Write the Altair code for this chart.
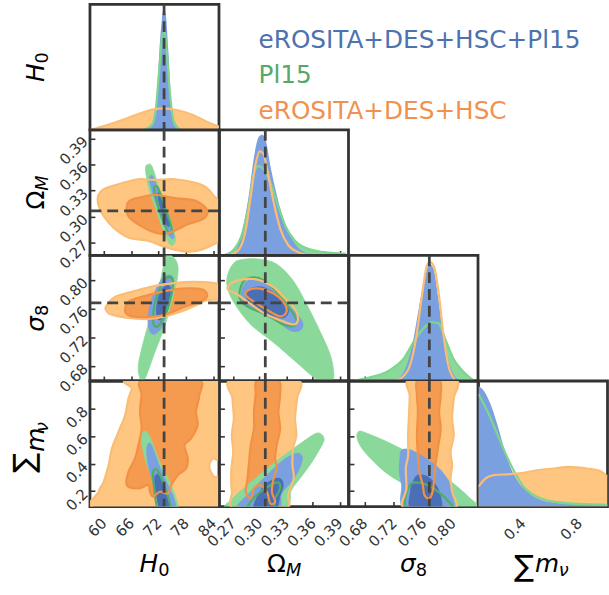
import altair as alt
import pandas as pd

# ---------------- axes: ranges, ticks, fiducial values ----------------
H0_DOMAIN = [57.0, 85.2]
OM_DOMAIN = [0.255, 0.400]
S8_DOMAIN = [0.659, 0.834]
MNU_DOMAIN = [0.088, 1.0]
DENS_DOMAIN = [0.0, 1.0]

H0_TICKS = [60, 66, 72, 78, 84]
OM_TICKS = [0.27, 0.30, 0.33, 0.36, 0.39]
S8_TICKS = [0.68, 0.72, 0.76, 0.80]
MNU_TICKS_Y = [0.2, 0.4, 0.6, 0.8]
MNU_TICKS_X = [0.4, 0.8]

H0_FID = [73.2]
OM_FID = [0.3065]
S8_FID = [0.768]

LEGEND_LABELS = ["eROSITA+DES+HSC+Pl15", "Pl15", "eROSITA+DES+HSC"]

# ---------------- 1D marginals (value, normalised density) ----------------
d0_blue = [(69.44, 0), (70.88, 0.053), (71.6, 0.237), (72.18, 0.632), (72.68, 0.868), (73.05, 0.96),
           (73.55, 0.921), (74.13, 0.632), (74.7, 0.237), (75.21, 0.053), (76.29, 0)]
d0_green = [(68.72, 0), (70.52, 0.039), (71.46, 0.184), (72.18, 0.5), (72.9, 0.763), (73.33, 0.776),
            (73.77, 0.632), (74.49, 0.289), (75.21, 0.079), (76.65, 0)]
d0_orange = [(57.0, 0.0), (60.79, 0.039), (65.12, 0.092), (68.0, 0.132), (70.88, 0.163), (73.05, 0.171),
             (75.93, 0.158), (79.53, 0.118), (82.41, 0.066), (85.2, 0.026)]

d1_blue = [(0.2663, 0), (0.2737, 0.039), (0.281, 0.21), (0.2884, 0.5), (0.2939, 0.789), (0.2994, 0.947),
           (0.3031, 0.961), (0.3068, 0.921), (0.3123, 0.711), (0.3197, 0.474), (0.327, 0.289),
           (0.3362, 0.132), (0.3473, 0.039), (0.362, 0)]
d1_green = [(0.259, 0), (0.27, 0.039), (0.281, 0.184), (0.2884, 0.421), (0.2939, 0.658), (0.2987, 0.711),
            (0.305, 0.684), (0.3123, 0.579), (0.3197, 0.421), (0.3289, 0.237), (0.3399, 0.118),
            (0.3546, 0.053), (0.373, 0.026), (0.397, 0.013)]
d1_orange = [(0.2663, 0), (0.2774, 0.053), (0.2847, 0.21), (0.2902, 0.474), (0.2958, 0.737), (0.3002, 0.829),
             (0.3039, 0.816), (0.3086, 0.684), (0.316, 0.421), (0.3234, 0.21), (0.3326, 0.079),
             (0.3436, 0.026), (0.3583, 0)]

d2_blue = [(0.7206, 0), (0.7339, 0.079), (0.7449, 0.289), (0.7537, 0.579), (0.7626, 0.842), (0.7683, 0.934),
           (0.7736, 0.895), (0.7802, 0.658), (0.7868, 0.368), (0.7957, 0.132), (0.8067, 0.013), (0.8138, 0)]
d2_green = [(0.661, 0), (0.6853, 0.026), (0.7118, 0.079), (0.7339, 0.184), (0.7471, 0.316), (0.7604, 0.421),
            (0.7714, 0.468), (0.7802, 0.461), (0.789, 0.342), (0.8001, 0.184), (0.8133, 0.079), (0.8288, 0)]
d2_orange = [(0.7228, 0), (0.7383, 0.079), (0.7493, 0.316), (0.7581, 0.684), (0.7648, 0.921), (0.7692, 0.947),
             (0.7745, 0.908), (0.7815, 0.658), (0.7877, 0.342), (0.7935, 0.132), (0.8023, 0.013)]

d3_blue = [(0.088, 0.961), (0.1263, 0.921), (0.1731, 0.816), (0.2199, 0.658), (0.2667, 0.474), (0.3135, 0.316),
           (0.3602, 0.211), (0.433, 0.118), (0.5006, 0.066), (0.6175, 0.032), (0.7813, 0.018), (1.0, 0.013)]
d3_green = [(0.088, 0.895), (0.1497, 0.763), (0.2199, 0.579), (0.2901, 0.395), (0.3485, 0.263), (0.407, 0.158),
            (0.5006, 0.079), (0.6175, 0.039), (0.7813, 0.021), (1.0, 0.013)]
d3_orange = [(0.088, 0.158), (0.138, 0.224), (0.1965, 0.25), (0.3135, 0.258), (0.407, 0.268), (0.5006, 0.289),
             (0.6175, 0.303), (0.7345, 0.316), (0.8514, 0.303), (0.945, 0.284), (1.0, 0.237)]

# ---------------- 2D contours (x, y) ----------------
# H0 vs Omega_M
p10_orange_outer = [(58.77, 0.3232), (60.0, 0.3316), (63.96, 0.3384), (67.57, 0.3430), (71.17, 0.3422),
                    (75.5, 0.3430), (79.82, 0.3392), (82.34, 0.3338), (84.5, 0.3213), (85.6, 0.3156),
                    (85.6, 0.2776), (83.42, 0.2662), (79.1, 0.2594), (75.5, 0.2616), (72.61, 0.2662),
                    (69.73, 0.2719), (65.41, 0.2757), (62.16, 0.2871), (60.0, 0.3004), (58.92, 0.3118)]
p10_orange_inner = [(65.05, 0.3118), (65.77, 0.3186), (68.29, 0.3224), (71.17, 0.3251), (75.5, 0.3213),
                    (79.82, 0.3186), (81.98, 0.3118), (82.7, 0.305), (81.62, 0.2966), (78.38, 0.2909),
                    (74.05, 0.2806), (71.17, 0.2814), (67.57, 0.2909), (65.41, 0.3004)]
p10_green_outer = [(69.15, 0.3555), (69.73, 0.3601), (70.59, 0.3574), (72.25, 0.3308), (74.05, 0.3042),
                   (75.64, 0.2776), (75.35, 0.2681), (74.41, 0.2681), (72.97, 0.2852), (71.17, 0.3118),
                   (69.73, 0.3346)]
p10_green_inner = [(71.17, 0.3346), (71.89, 0.3327), (73.33, 0.3118), (74.77, 0.289), (74.77, 0.2814),
                   (74.05, 0.2822), (72.76, 0.2985), (71.53, 0.3194), (71.03, 0.3308)]
p10_blue_outer = [(70.09, 0.346), (70.81, 0.346), (72.25, 0.3251), (74.05, 0.3004), (75.35, 0.2784),
                  (74.92, 0.2746), (73.91, 0.2814), (72.25, 0.3023), (70.81, 0.3251), (69.95, 0.3422)]
p10_blue_inner = [(71.89, 0.327), (72.61, 0.3251), (73.69, 0.3061), (74.41, 0.2909), (73.91, 0.289),
                  (72.97, 0.3004), (72.04, 0.3175)]

# H0 vs sigma_8
p20_orange_outer = [(60.5, 0.7627), (62.52, 0.7763), (66.13, 0.7832), (70.09, 0.790), (73.33, 0.7936),
                    (77.66, 0.7968), (81.98, 0.7968), (84.86, 0.7945), (86.0, 0.790), (86.0, 0.7741),
                    (82.7, 0.7718), (79.82, 0.7636), (76.94, 0.7559), (73.33, 0.749), (69.73, 0.7454),
                    (65.41, 0.7468), (61.8, 0.7513), (60.72, 0.7559)]
p20_orange_inner = [(64.68, 0.7604), (65.41, 0.7695), (68.29, 0.7763), (72.61, 0.7832), (76.94, 0.7877),
                    (80.54, 0.7877), (82.34, 0.7832), (82.34, 0.7741), (79.82, 0.7672), (76.94, 0.7604),
                    (73.33, 0.7513), (69.73, 0.7481), (66.13, 0.749), (64.83, 0.7536)]
p20_green_outer = [(67.93, 0.6626), (67.57, 0.6808), (68.65, 0.7126), (70.45, 0.7536), (72.25, 0.7945),
                   (73.33, 0.8264), (74.05, 0.836), (75.86, 0.8264), (76.22, 0.8082), (75.14, 0.7763),
                   (73.33, 0.7354), (71.17, 0.699), (69.37, 0.6671), (68.65, 0.6603)]
p20_green_inner = [(70.81, 0.7445), (71.17, 0.7672), (72.61, 0.7923), (74.05, 0.8036), (75.14, 0.7991),
                   (74.77, 0.7786), (73.69, 0.7559), (72.25, 0.7377), (71.17, 0.7354)]
p20_blue_outer = [(69.73, 0.749), (70.45, 0.7718), (72.25, 0.7968), (73.69, 0.8059), (75.14, 0.8036),
                  (75.14, 0.7854), (74.05, 0.7604), (72.61, 0.7331), (70.81, 0.724), (69.87, 0.7331)]
p20_blue_inner = [(71.53, 0.7581), (72.25, 0.7809), (73.69, 0.7923), (74.63, 0.7877), (74.41, 0.7672),
                  (73.33, 0.749), (72.04, 0.7445)]

# H0 vs sum m_nu
p30_orange_outer = [(65.77, 1.01), (85.6, 1.01), (85.6, 0.4736), (83.78, 0.4373), (83.06, 0.3769),
                    (84.14, 0.3043), (85.6, 0.2922), (85.6, 0.07), (58.92, 0.07), (58.92, 0.1955),
                    (60.0, 0.268), (61.08, 0.3889), (61.8, 0.5098), (63.24, 0.6307), (64.68, 0.7516),
                    (65.41, 0.8725), (66.13, 0.9451)]
p30_orange_inner = [(80.54, 1.01), (80.9, 0.8967), (80.18, 0.7758), (80.54, 0.6791), (79.1, 0.5824),
                    (77.66, 0.534), (78.38, 0.4373), (78.02, 0.3648), (76.22, 0.3164), (74.77, 0.2439),
                    (74.05, 0.1834), (72.25, 0.1955), (70.81, 0.1592), (70.09, 0.1955), (69.73, 0.2439),
                    (67.57, 0.2197), (65.05, 0.2439), (65.41, 0.3406), (66.85, 0.4373), (67.57, 0.534),
                    (68.29, 0.6549), (67.93, 0.7758), (68.29, 0.8967), (68.65, 1.01)]
p30_green_outer = [(68.29, 0.6066), (69.01, 0.6356), (70.09, 0.5945), (72.25, 0.4131), (74.41, 0.268),
                   (75.86, 0.1471), (76.22, 0.07), (73.69, 0.07), (71.53, 0.2197), (69.73, 0.3648),
                   (68.5, 0.5098)]
p30_green_inner = [(70.81, 0.3406), (71.68, 0.3527), (73.19, 0.2439), (74.63, 0.07), (71.89, 0.07),
                   (70.95, 0.2439)]
p30_blue_outer = [(69.59, 0.534), (70.45, 0.534), (72.25, 0.3769), (74.05, 0.2439), (75.35, 0.1471),
                  (75.64, 0.07), (72.97, 0.07), (71.53, 0.1955), (70.09, 0.3406), (69.44, 0.4615)]
p30_blue_inner = [(71.17, 0.3043), (72.04, 0.3164), (73.33, 0.2197), (74.41, 0.07), (72.25, 0.07),
                  (71.32, 0.2197)]

# Omega_M vs sigma_8
p21_green_outer = [(0.2645, 0.8082), (0.2718, 0.8241), (0.2828, 0.8287), (0.3011, 0.8287), (0.3194, 0.8218),
                   (0.3377, 0.7991), (0.3524, 0.7672), (0.367, 0.7308), (0.3798, 0.6944), (0.3835, 0.6649),
                   (0.378, 0.6594), (0.3633, 0.6626), (0.3414, 0.6853), (0.3158, 0.7126), (0.2901, 0.7377),
                   (0.2718, 0.7672), (0.2638, 0.79)]
p21_green_inner = [(0.2773, 0.7809), (0.2828, 0.7991), (0.2938, 0.8036), (0.3048, 0.7991), (0.3176, 0.7854),
                   (0.3322, 0.7627), (0.3414, 0.7445), (0.3377, 0.7354), (0.3267, 0.7377), (0.3084, 0.7513),
                   (0.2901, 0.7604), (0.2799, 0.7695)]
p21_blue_outer = [(0.2792, 0.7809), (0.2846, 0.7968), (0.2956, 0.80), (0.3066, 0.7945), (0.3194, 0.7809),
                  (0.3377, 0.7581), (0.348, 0.7422), (0.3469, 0.7308), (0.3359, 0.7286), (0.3194, 0.7422),
                  (0.2975, 0.7559), (0.2828, 0.7672)]
p21_blue_inner = [(0.2846, 0.7786), (0.2901, 0.7877), (0.3029, 0.790), (0.3176, 0.7809), (0.3304, 0.7672),
                  (0.3322, 0.7536), (0.3249, 0.7468), (0.3084, 0.7536), (0.292, 0.765)]
p21_orange_outer = [(0.2645, 0.79), (0.27, 0.7968), (0.2865, 0.8014), (0.3011, 0.7991), (0.3158, 0.79),
                    (0.3267, 0.7763), (0.3395, 0.7604), (0.3432, 0.7445), (0.3377, 0.7377), (0.3212, 0.7445),
                    (0.3048, 0.7536), (0.2865, 0.7695), (0.2737, 0.7809), (0.2652, 0.7854)]
p21_orange_inner = [(0.2846, 0.7786), (0.2883, 0.7863), (0.3011, 0.7877), (0.3158, 0.7809), (0.3267, 0.7695),
                    (0.3304, 0.7559), (0.3231, 0.749), (0.3084, 0.7581), (0.2938, 0.7695)]

# Omega_M vs sum m_nu
p31_orange_outer = [(0.2689, 1.01), (0.3414, 1.01), (0.3421, 0.8725), (0.3399, 0.7275), (0.3414, 0.6066),
                    (0.3377, 0.5098), (0.337, 0.3889), (0.3384, 0.2922), (0.3322, 0.1713), (0.3286, 0.07),
                    (0.2718, 0.07), (0.2689, 0.1955), (0.2682, 0.3406), (0.2704, 0.4857), (0.2689, 0.6066),
                    (0.2711, 0.7275), (0.2696, 0.8725)]
p31_orange_inner = [(0.2975, 1.01), (0.3212, 1.01), (0.3231, 0.8967), (0.3212, 0.7758), (0.3231, 0.6549),
                    (0.3194, 0.534), (0.3176, 0.4373), (0.3194, 0.3648), (0.3158, 0.2922), (0.3139, 0.1955),
                    (0.3176, 0.1229), (0.3121, 0.1109), (0.3084, 0.1955), (0.3011, 0.2439), (0.2938, 0.2197),
                    (0.2901, 0.1471), (0.2846, 0.1955), (0.2865, 0.2922), (0.2883, 0.4131), (0.2901, 0.534),
                    (0.2938, 0.6549), (0.2938, 0.7758), (0.2956, 0.8967)]
p31_green_outer = [(0.2638, 0.07), (0.27, 0.1471), (0.2865, 0.2439), (0.3084, 0.3648), (0.3304, 0.4736),
                   (0.3487, 0.5582), (0.3633, 0.6187), (0.3699, 0.6114), (0.3725, 0.5703), (0.367, 0.4978),
                   (0.3578, 0.401), (0.3469, 0.3043), (0.3359, 0.2076), (0.3267, 0.07)]
p31_green_inner = [(0.2883, 0.07), (0.2901, 0.123), (0.3011, 0.1955), (0.3139, 0.2487), (0.3212, 0.2632),
                   (0.3231, 0.2197), (0.3176, 0.1471), (0.3139, 0.07)]
p31_blue_outer = [(0.2755, 0.07), (0.2901, 0.1955), (0.3084, 0.3164), (0.3267, 0.4252), (0.3414, 0.4736),
                  (0.348, 0.4494), (0.345, 0.3648), (0.3359, 0.268), (0.3249, 0.1834), (0.3194, 0.07)]
p31_blue_inner = [(0.2938, 0.07), (0.3029, 0.2197), (0.3139, 0.2801), (0.3231, 0.2922), (0.3267, 0.2439),
                  (0.3231, 0.1713), (0.3176, 0.07)]

# sigma_8 vs sum m_nu
p32_orange_outer = [(0.7414, 1.01), (0.8033, 1.01), (0.8011, 0.8725), (0.7989, 0.7275), (0.8011, 0.6066),
                    (0.7967, 0.4857), (0.7989, 0.3889), (0.7967, 0.2922), (0.7989, 0.1955), (0.8011, 0.07),
                    (0.7348, 0.07), (0.737, 0.2197), (0.7361, 0.3648), (0.7392, 0.4615), (0.7392, 0.6066),
                    (0.7406, 0.7758), (0.7414, 0.8967)]
p32_orange_inner = [(0.7525, 1.01), (0.7812, 1.01), (0.7834, 0.8967), (0.7812, 0.7758), (0.7834, 0.6549),
                    (0.7803, 0.534), (0.7768, 0.4131), (0.7746, 0.2922), (0.7724, 0.1955), (0.768, 0.1471),
                    (0.7613, 0.1713), (0.7591, 0.2439), (0.7547, 0.3406), (0.7525, 0.4615), (0.7512, 0.6066),
                    (0.7525, 0.7758), (0.7512, 0.8967)]
p32_green_outer = [(0.6698, 0.5945), (0.6729, 0.6356), (0.684, 0.6187), (0.7105, 0.5582), (0.7459, 0.4615),
                   (0.7768, 0.3527), (0.8033, 0.2439), (0.821, 0.1592), (0.836, 0.07), (0.7989, 0.07),
                   (0.768, 0.1713), (0.737, 0.2439), (0.7105, 0.3285), (0.6884, 0.4373), (0.6751, 0.5219)]
p32_green_inner = [(0.7392, 0.07), (0.7414, 0.2439), (0.7591, 0.256), (0.7768, 0.2076), (0.79, 0.1471),
                   (0.7967, 0.07)]
p32_blue_outer = [(0.7282, 0.4373), (0.7304, 0.4978), (0.7436, 0.4978), (0.7635, 0.4373), (0.7812, 0.3648),
                  (0.7945, 0.268), (0.7989, 0.1713), (0.7967, 0.07), (0.7348, 0.07), (0.7304, 0.2439),
                  (0.7273, 0.3406)]
p32_blue_inner = [(0.7459, 0.268), (0.7525, 0.3164), (0.7657, 0.3043), (0.7768, 0.2439), (0.7834, 0.1592),
                  (0.7812, 0.07), (0.7436, 0.07), (0.7423, 0.1955)]

# ---------------- styling ----------------
W, HT = 130.5, 127
FRAME = "#333333"
DASH = "#444444"
C_BLUE, C_BLUE_IN = "#7ba0e0", "#4b6fb5"
C_GREEN, C_GREEN_IN, C_GREEN_LINE = "#8ad99a", "#4fae66", "#7dd68d"
C_OR, C_OR_IN, C_OR_LINE, C_OR_LINE_IN = "#fec680", "#f59b50", "#fbbd75", "#f29145"
LEGEND_COLORS = ["#4c72b0", "#55a868", "#f0924f"]
FONT = "DejaVu Sans"

PARAMS = ["H0", "OM", "S8", "MNU"]
DOM = {"H0": H0_DOMAIN, "OM": OM_DOMAIN, "S8": S8_DOMAIN, "MNU": MNU_DOMAIN}
XTICKS = {"H0": H0_TICKS, "OM": OM_TICKS, "S8": S8_TICKS, "MNU": MNU_TICKS_X}
YTICKS = {"OM": OM_TICKS, "S8": S8_TICKS, "MNU": MNU_TICKS_Y}
FMT = {"H0": "d", "OM": ".2f", "S8": ".2f", "MNU": ".1f"}
FID = {"H0": H0_FID, "OM": OM_FID, "S8": S8_FID, "MNU": []}


def make_axis(orient, ticks, fmt, labels):
    return alt.Axis(orient=orient, values=ticks, format=fmt, labels=labels, domain=False, grid=False,
                    ticks=True, tickSize=5, tickWidth=1.6, tickColor=FRAME, offset=-5,
                    labelAngle=315, labelAlign="right", labelBaseline="middle",
                    labelFontSize=15, labelFont=FONT, labelColor="#333333",
                    labelPadding=14 if orient == "bottom" else 5,
                    labelOverlap=False, labelFlush=False, labelBound=False, title=None)


def encs(r, c):
    px = PARAMS[c]
    xe = alt.X("x:Q", scale=alt.Scale(domain=DOM[px], nice=False, zero=False),
               axis=make_axis("bottom", XTICKS[px], FMT[px], r == 3))
    if r == c:
        ye = alt.Y("y:Q", scale=alt.Scale(domain=DENS_DOMAIN, nice=False, zero=False), axis=None)
    else:
        py = PARAMS[r]
        ye = alt.Y("y:Q", scale=alt.Scale(domain=DOM[py], nice=False, zero=False),
                   axis=make_axis("left", YTICKS[py], FMT[py], c == 0))
    return xe, ye


def df_of(pts):
    return pd.DataFrame({"x": [p[0] for p in pts], "y": [p[1] for p in pts], "o": list(range(len(pts)))})


def fill_poly(pts, xe, ye, color):
    return alt.Chart(df_of(pts)).mark_line(fill=color, stroke=color, strokeWidth=0.8,
                                           interpolate="cardinal-closed", clip=True).encode(
        x=xe, y=ye, order="o:Q")


def line_poly(pts, xe, ye, color, width=2.2):
    return alt.Chart(df_of(pts)).mark_line(stroke=color, strokeWidth=width,
                                           interpolate="cardinal-closed", clip=True).encode(
        x=xe, y=ye, order="o:Q")


def dens_area(pts, xe, ye, color):
    return alt.Chart(df_of(pts)).mark_area(color=color, interpolate="monotone", clip=True).encode(
        x=xe, y=ye)


def dens_line(pts, xe, ye, color):
    return alt.Chart(df_of(pts)).mark_line(color=color, strokeWidth=2.2, interpolate="monotone",
                                           clip=True).encode(x=xe, y=ye, order="o:Q")


def vrule(vals, xe):
    return alt.Chart(pd.DataFrame({"x": vals})).mark_rule(color=DASH, strokeWidth=2.8, strokeDash=[11, 6],
                                                          clip=True).encode(x=xe)


def hrule(vals, ye):
    return alt.Chart(pd.DataFrame({"y": vals})).mark_rule(color=DASH, strokeWidth=2.8, strokeDash=[11, 6],
                                                          clip=True).encode(y=ye)


def txt(s, x, y, size, style="normal", angle=0, align="left", color="black"):
    return alt.Chart(pd.DataFrame({"t": [s]})).mark_text(
        align=align, baseline="alphabetic", fontSize=size, font=FONT, fontStyle=style,
        angle=angle, color=color).encode(x=alt.value(x), y=alt.value(y), text="t:N")


CX, CY = W / 2, HT / 2
XB = HT + 66   # baseline of x titles
YB = -46       # baseline of y titles


def x_title(p):
    if p == "H0":
        return [txt("H", CX + 3.7, XB, 25, "italic", align="right"), txt("0", CX + 3.7, XB + 4, 18)]
    if p == "OM":
        return [txt("Ω", CX + 2, XB, 25, align="right"), txt("M", CX + 2, XB + 4, 18, "italic")]
    if p == "S8":
        return [txt("σ", CX + 2.2, XB, 25, "italic", align="right"), txt("8", CX + 2.2, XB + 4, 18)]
    return [txt("∑", CX - 9, XB + 4, 30, align="right"), txt("m", CX - 8, XB, 25, "italic"),
            txt("ν", CX + 16, XB + 4, 18, "italic")]


def y_title(p):
    if p == "H0":
        return [txt("H", YB, CY - 3.7, 25, "italic", 270, "right"), txt("0", YB + 4, CY - 3.7, 18, angle=270)]
    if p == "OM":
        return [txt("Ω", YB, CY - 2, 25, angle=270, align="right"), txt("M", YB + 4, CY - 2, 18, "italic", 270)]
    if p == "S8":
        return [txt("σ", YB, CY - 2.2, 25, "italic", 270, "right"), txt("8", YB + 4, CY - 2.2, 18, angle=270)]
    return [txt("∑", YB - 11, CY + 9, 30, angle=270, align="right"), txt("m", YB, CY + 8, 25, "italic", 270),
            txt("ν", YB + 4, CY - 12, 18, "italic", 270)]


CONTOURS = {
    (1, 0): dict(oo=p10_orange_outer, oi=p10_orange_inner, go=p10_green_outer, gi=p10_green_inner,
                 bo=p10_blue_outer, bi=p10_blue_inner, ofill=True),
    (2, 0): dict(oo=p20_orange_outer, oi=p20_orange_inner, go=p20_green_outer, gi=p20_green_inner,
                 bo=p20_blue_outer, bi=p20_blue_inner, ofill=True),
    (3, 0): dict(oo=p30_orange_outer, oi=p30_orange_inner, go=p30_green_outer, gi=p30_green_inner,
                 bo=p30_blue_outer, bi=p30_blue_inner, ofill=True),
    (2, 1): dict(oo=p21_orange_outer, oi=p21_orange_inner, go=p21_green_outer, gi=p21_green_inner,
                 bo=p21_blue_outer, bi=p21_blue_inner, ofill=False),
    (3, 1): dict(oo=p31_orange_outer, oi=p31_orange_inner, go=p31_green_outer, gi=p31_green_inner,
                 bo=p31_blue_outer, bi=p31_blue_inner, ofill=True),
    (3, 2): dict(oo=p32_orange_outer, oi=p32_orange_inner, go=p32_green_outer, gi=p32_green_inner,
                 bo=p32_blue_outer, bi=p32_blue_inner, ofill=True),
}

MARGINALS = {
    0: dict(blue=d0_blue, green=d0_green, orange=d0_orange, gfill=True, ofill=True),
    1: dict(blue=d1_blue, green=d1_green, orange=d1_orange, gfill=True, ofill=False),
    2: dict(blue=d2_blue, green=d2_green, orange=d2_orange, gfill=True, ofill=False),
    3: dict(blue=d3_blue, green=d3_green, orange=d3_orange, gfill=False, ofill=True),
}


def panel(r, c):
    xe, ye = encs(r, c)
    layers = []
    if r == c:
        m = MARGINALS[r]
        if m["ofill"]:
            layers.append(dens_area(m["orange"], xe, ye, C_OR))
        if m["gfill"]:
            layers.append(dens_area(m["green"], xe, ye, C_GREEN))
        layers.append(dens_area(m["blue"], xe, ye, C_BLUE))
        layers.append(dens_line(m["green"], xe, ye, C_GREEN_LINE))
        layers.append(dens_line(m["orange"], xe, ye, C_OR_LINE))
        if FID[PARAMS[c]]:
            layers.append(vrule(FID[PARAMS[c]], xe))
    else:
        k = CONTOURS[(r, c)]
        if k["ofill"]:
            layers.append(fill_poly(k["oo"], xe, ye, C_OR))
            layers.append(fill_poly(k["oi"], xe, ye, C_OR_IN))
        layers.append(fill_poly(k["go"], xe, ye, C_GREEN))
        layers.append(fill_poly(k["bo"], xe, ye, C_BLUE))
        layers.append(fill_poly(k["bi"], xe, ye, C_BLUE_IN))
        layers.append(line_poly(k["gi"], xe, ye, C_GREEN_IN))
        layers.append(line_poly(k["oo"], xe, ye, C_OR_LINE))
        layers.append(line_poly(k["oi"], xe, ye, C_OR_LINE_IN))
        if FID[PARAMS[c]]:
            layers.append(vrule(FID[PARAMS[c]], xe))
        if FID[PARAMS[r]]:
            layers.append(hrule(FID[PARAMS[r]], ye))
    if r == 3:
        layers += x_title(PARAMS[c])
    if c == 0:
        layers += y_title(PARAMS[r])
    if r == 0 and c == 0:
        layers.append(alt.Chart(pd.DataFrame({"a": [0]})).mark_rule(color="white", strokeWidth=1).encode(
            x=alt.value(-88.5), x2=alt.value(-88), y=alt.value(-2.5)))
    return alt.layer(*layers).properties(width=W, height=HT)


def blank(with_legend=False):
    layers = [txt("", CX, CY, 10)]
    if with_legend:
        for lab, col, yb in zip(LEGEND_LABELS, LEGEND_COLORS, [43.7, 79.6, 116.0]):
            layers.append(txt(lab, 39.5, yb, 25, color=col))
    return alt.layer(*layers).properties(width=W, height=HT,
                                         view=alt.ViewBackground(stroke="transparent"))


cells = []
for r in range(4):
    for c in range(4):
        if c <= r:
            cells.append(panel(r, c))
        else:
            cells.append(blank(with_legend=(r == 0 and c == 1)))

chart = alt.concat(*cells, columns=4, spacing=0, bounds="flush").properties(
    padding={"left": 0, "top": -4, "right": 0, "bottom": 0}
).configure_view(stroke=FRAME, strokeWidth=2.8)

chart.save("out.html", embed_options={"renderer": "svg", "actions": False})
